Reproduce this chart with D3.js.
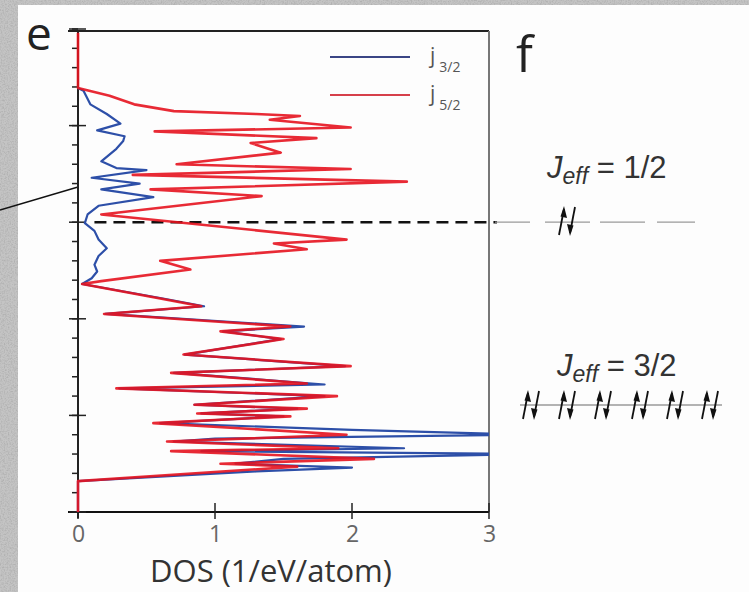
<!DOCTYPE html>
<html>
<head>
<meta charset="utf-8">
<script src="https://cdn.jsdelivr.net/npm/d3@7"></script>
<style>
  body { margin: 0; background: #bdbdbd; }
  svg { display: block; font-family: "Open Sans", "Noto Sans", sans-serif; }
</style>
</head>
<body>
<div id="chart"></div>
<script>
// energies (eV) and DOS (1/eV/atom)
const j52Energy = [1.96, 1.39, 1.31, 1.22, 1.15, 1.12, 1.10, 1.06, 0.98, 0.94, 0.87, 0.82, 0.72, 0.60, 0.55, 0.49, 0.42,
  0.34, 0.27, 0.08, -0.18, -0.22, -0.28, -0.40, -0.49, -0.61, -0.64, -0.79, -0.87, -0.95, -1.08, -1.13, -1.21,
  -1.37, -1.49, -1.56, -1.67, -1.72, -1.80, -1.89, -1.93, -1.98, -2.01, -2.08, -2.20, -2.27, -2.34, -2.37,
  -2.45, -2.50, -2.53, -2.68, -3.0];
const j52Dos = [0, 0, 0.23, 0.41, 0.70, 1.30, 1.62, 1.40, 1.99, 0.56, 1.74, 1.26, 1.48, 0.72, 1.99, 0.40, 2.40,
  0.53, 1.34, 0.17, 1.96, 1.43, 1.67, 0.60, 0.82, 0.17, 0.03, 0.60, 0.90, 0.19, 1.55, 1.04, 1.50,
  0.77, 1.99, 0.68, 1.67, 0.28, 1.89, 0.85, 1.67, 0.87, 1.55, 0.55, 1.96, 0.65, 1.90, 0.68,
  2.16, 1.04, 1.60, 0, 0];

const j32Energy = [1.39, 1.36, 1.22, 1.12, 1.02, 0.95, 0.89, 0.84, 0.76, 0.63, 0.56, 0.54, 0.46, 0.40, 0.34, 0.26,
  0.17, 0.08, -0.01, -0.09, -0.18, -0.27, -0.35, -0.44, -0.51, -0.58, -0.64, -0.79, -0.87, -0.95, -1.08,
  -1.13, -1.21, -1.37, -1.49, -1.56, -1.68, -1.72, -1.80, -1.89, -1.93, -1.98, -2.01, -2.08, -2.15, -2.20,
  -2.24, -2.27, -2.34, -2.37, -2.40, -2.45, -2.50, -2.54, -2.58, -2.68, -3.0];
const j32Dos = [0, 0.04, 0.09, 0.21, 0.31, 0.14, 0.34, 0.33, 0.28, 0.17, 0.28, 0.50, 0.10, 0.45, 0.17, 0.55,
  0.15, 0.07, 0.05, 0.12, 0.15, 0.21, 0.15, 0.12, 0.14, 0.10, 0.03, 0.62, 0.92, 0.20, 1.65,
  1.06, 1.48, 0.78, 1.95, 0.70, 1.80, 0.30, 1.80, 0.85, 1.60, 0.90, 1.50, 0.60, 2.00, 3.30,
  1.00, 0.70, 2.38, 0.90, 3.30, 1.50, 1.15, 2.00, 1.30, 0, 0];

const dosTicks = [0, 1, 2, 3];
const energyMajor = [-3, -2, -1, 0, 1, 2];
const energyMinor = d3.range(-3, 2.01, 0.2);

const width = 749, height = 592;

const x = d3.scaleLinear().domain([0, 3]).range([78, 489]);
const y = d3.scaleLinear().domain([-3, 2]).range([512, 29]);

const svg = d3.select("#chart").append("svg")
  .attr("width", width)
  .attr("height", height);

// grainy grey background
const defs = svg.append("defs");
const f = defs.append("filter").attr("id", "grain").attr("x", 0).attr("y", 0).attr("width", "100%").attr("height", "100%");
f.append("feTurbulence").attr("type", "fractalNoise").attr("baseFrequency", 0.7).attr("numOctaves", 2).attr("seed", 4);
f.append("feColorMatrix").attr("type", "matrix")
  .attr("values", "0 0 0 0 0.42  0 0 0 0 0.42  0 0 0 0 0.42  2.6 0 0 0 -1.05");
defs.append("clipPath").attr("id", "plotclip")
  .append("rect").attr("x", 60).attr("y", 20).attr("width", x(3) - 60).attr("height", 500);

svg.append("rect").attr("width", width).attr("height", height).attr("fill", "#c4c4c4");
svg.append("rect").attr("width", width).attr("height", height).attr("filter", "url(#grain)").attr("opacity", 0.8);
svg.append("rect").attr("x", 18).attr("y", 5).attr("width", width - 18).attr("height", height - 5).attr("fill", "#fdfdfd");

// leader line from neighbouring panel
svg.append("line").attr("x1", 0).attr("y1", 210).attr("x2", x(0)).attr("y2", 187)
  .attr("stroke", "#111").attr("stroke-width", 1.4);

// frame
svg.append("line").attr("x1", 68).attr("x2", x(3)).attr("y1", 31).attr("y2", 31)
  .attr("stroke", "#222").attr("stroke-width", 2);
svg.append("line").attr("x1", x(3)).attr("x2", x(3)).attr("y1", 31).attr("y2", y(-3))
  .attr("stroke", "#777").attr("stroke-width", 2);

// axes
const xAxis = d3.axisBottom(x).tickValues(dosTicks).tickSize(0).tickPadding(14).tickFormat(d3.format("d"));
const gx = svg.append("g").attr("transform", `translate(0,${y(-3)})`).call(xAxis);
gx.attr("font-size", 23).attr("font-family", null);
gx.select(".domain").attr("stroke", "#111").attr("stroke-width", 2).attr("d", `M68,0H${x(3)}`);
gx.selectAll("text").attr("fill", "#666");
svg.append("g").selectAll("line").data(dosTicks).join("line")
  .attr("x1", d => x(d)).attr("x2", d => x(d))
  .attr("y1", y(-3) - 9).attr("y2", y(-3) + 7)
  .attr("stroke", "#222").attr("stroke-width", 1.5);

svg.append("line").attr("x1", x(0)).attr("x2", x(0)).attr("y1", 31).attr("y2", y(-3) + 6)
  .attr("stroke", "#222").attr("stroke-width", 2);
svg.append("g").selectAll("line").data(energyMinor).join("line")
  .attr("x1", x(0) - 6).attr("x2", x(0))
  .attr("y1", d => y(d)).attr("y2", d => y(d))
  .attr("stroke", "#222").attr("stroke-width", 1.5);
svg.append("g").selectAll("line").data(energyMajor).join("line")
  .attr("x1", x(0) - 9).attr("x2", x(0) + 8)
  .attr("y1", d => y(d)).attr("y2", d => y(d))
  .attr("stroke", "#222").attr("stroke-width", 1.5);

// fermi level
svg.append("line").attr("x1", x(0.12)).attr("x2", x(3) + 8).attr("y1", y(0)).attr("y2", y(0))
  .attr("stroke", "#111").attr("stroke-width", 2.5).attr("stroke-dasharray", "12,7");

// curves
const line = d3.line().x(d => x(d[1])).y(d => y(d[0]));
const plot = svg.append("g").attr("clip-path", "url(#plotclip)");
plot.append("path").datum(d3.zip(j32Energy, j32Dos)).attr("d", line)
  .attr("fill", "none").attr("stroke", "#2d4fa8").attr("stroke-width", 2.2).attr("stroke-linejoin", "round");
plot.append("path").datum(d3.zip(j52Energy, j52Dos)).attr("d", line)
  .attr("fill", "none").attr("stroke", "#e5131f").attr("stroke-width", 2.6).attr("stroke-linejoin", "round")
  .attr("opacity", 0.9);

// legend
const legend = [{ name: "3/2", color: "#3b4585", y: 57 }, { name: "5/2", color: "#d6404a", y: 95 }];
const lg = svg.append("g").selectAll("g").data(legend).join("g");
lg.append("line").attr("x1", 330).attr("x2", 410).attr("y1", d => d.y).attr("y2", d => d.y)
  .attr("stroke", d => d.color).attr("stroke-width", 2);
const lt = lg.append("text").attr("x", 430).attr("y", d => d.y + 6).attr("fill", "#555").attr("font-size", 21);
lt.append("tspan").text("j");
lt.append("tspan").attr("dx", 4).attr("dy", 9).attr("font-size", 14).text(d => d.name);

// axis title and panel letters
svg.append("text").attr("x", 271).attr("y", 582).attr("text-anchor", "middle")
  .attr("font-size", 31).attr("fill", "#333").text("DOS (1/eV/atom)");
svg.append("text").attr("x", 26).attr("y", 50).attr("font-size", 46).attr("fill", "#222").text("e");
svg.append("text").attr("x", 516).attr("y", 72).attr("font-size", 50).attr("fill", "#222").text("f");

// panel f: levels
const levels = [
  { label: "1/2", tx: 547, ty: 178 },
  { label: "3/2", tx: 557, ty: 376 }
];
levels.forEach(l => {
  const t = svg.append("text").attr("x", l.tx).attr("y", l.ty).attr("fill", "#333").attr("font-size", 31)
    .attr("font-family", "Liberation Sans, Arial, sans-serif");
  t.append("tspan").attr("font-style", "italic").text("J");
  t.append("tspan").attr("font-style", "italic").attr("font-size", 23).attr("dy", 6).text("eff");
  t.append("tspan").attr("dy", -6).text(" = " + l.label);
});

const grey = "#9a9a9a";
[[495, 530], [545, 590], [600, 645], [657, 695]].forEach(s => {
  svg.append("line").attr("x1", s[0]).attr("x2", s[1]).attr("y1", y(0)).attr("y2", y(0))
    .attr("stroke", grey).attr("stroke-width", 1.3);
});
svg.append("line").attr("x1", 520).attr("x2", 722).attr("y1", 405).attr("y2", 405)
  .attr("stroke", grey).attr("stroke-width", 1.3);

function spinPair(cx, cy) {
  const g = svg.append("g").attr("transform", `translate(${cx},${cy})`);
  // up arrow
  g.append("line").attr("x1", -8).attr("y1", 14).attr("x2", -3).attr("y2", -12)
    .attr("stroke", "#111").attr("stroke-width", 1.8);
  g.append("path").attr("d", "M-3,-15 L0,-3 L-6.5,-4.5 Z").attr("fill", "#111");
  // down arrow
  g.append("line").attr("x1", 8).attr("y1", -14).attr("x2", 3).attr("y2", 12)
    .attr("stroke", "#111").attr("stroke-width", 1.8);
  g.append("path").attr("d", "M3,15 L0,3 L6.5,4.5 Z").attr("fill", "#111");
}
spinPair(567, 221);
[531, 567, 603, 640, 675, 710].forEach(cx => spinPair(cx, 405));
</script>
</body>
</html>
